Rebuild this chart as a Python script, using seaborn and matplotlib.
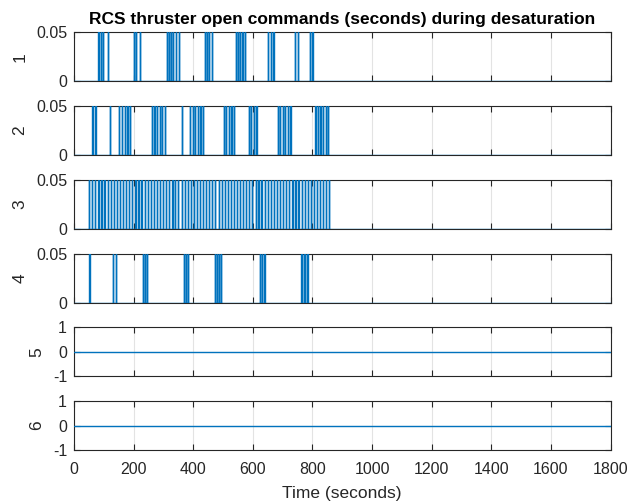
import numpy as np
import pandas as pd
import matplotlib
matplotlib.use("Agg")
import matplotlib.pyplot as plt
import seaborn as sns

# Thruster open-command pulses: start times (s) for each thruster
thruster1_on = [82, 90, 97, 113, 202, 209, 221, 311, 318, 326, 333, 341, 353,
                440, 446, 454, 463, 543, 549, 557, 565, 573, 652, 660, 669,
                742, 751, 792, 800]
thruster2_on = [62, 72, 121, 152, 161, 170, 179, 188, 261, 270, 278, 287, 295,
                304, 362, 390, 399, 407, 415, 424, 432, 502, 511, 519, 528, 536,
                586, 594, 603, 612, 683, 692, 700, 709, 717, 726, 810, 819, 827,
                836, 844, 853]
thruster3_on = [51, 61, 71, 82, 92, 102, 113, 123, 133, 144, 154, 164, 175, 185,
                195, 206, 216, 226, 237, 247, 257, 268, 278, 288, 299, 309, 319,
                330, 340, 350, 361, 371, 381, 392, 402, 412, 423, 433, 443, 454,
                464, 474, 485, 495, 505, 516, 526, 536, 547, 557, 567, 578, 588,
                598, 609, 619, 629, 640, 650, 660, 671, 681, 691, 702, 712, 722,
                733, 743, 753, 764, 774, 784, 795, 805, 815, 826, 836, 846, 855]
thruster4_on = [52, 132, 140, 231, 239, 246, 370, 376, 383, 472, 480, 487, 494,
                623, 630, 639, 763, 770, 776, 783]
thruster5_on = []
thruster6_on = []

pulse_cmd = 0.05      # open command per pulse (s)
pulse_len = 0.5       # duration of each pulse on the time axis (s)
t_end = 1800

channel_names = ["1", "2", "3", "4", "5", "6"]
channel_pulses = [thruster1_on, thruster2_on, thruster3_on,
                  thruster4_on, thruster5_on, thruster6_on]
x_ticks = [0, 200, 400, 600, 800, 1000, 1200, 1400, 1600, 1800]


def waveform(starts):
    ts, vs = [0.0], [0.0]
    for s in starts:
        ts += [s, s, s + pulse_len, s + pulse_len]
        vs += [0.0, pulse_cmd, pulse_cmd, 0.0]
    ts.append(t_end)
    vs.append(0.0)
    return pd.DataFrame({"t": ts, "cmd": vs})


sns.set_theme(style="white")
plt.rcParams["font.family"] = ["Liberation Sans", "DejaVu Sans"]

W, H = 631, 504
fig = plt.figure(figsize=(W / 100, H / 100), dpi=100)

line_color = "#0072BD"
axis_color = "#262626"
grid_color = "#e3e3e3"

left_px, right_px = 74, 610.5
tops = [32.3, 106, 180, 254, 327.3, 401]
height_px = 49

axes = []
for i, (name, starts) in enumerate(zip(channel_names, channel_pulses)):
    ax = fig.add_axes([left_px / W, 1 - (tops[i] + height_px) / H,
                       (right_px - left_px) / W, height_px / H])
    df = waveform(starts)
    sns.lineplot(data=df, x="t", y="cmd", estimator=None, sort=False,
                 ax=ax, color=line_color, linewidth=1.0, zorder=3)
    ax.set_xlim(0, t_end)
    if i < 4:
        ax.set_ylim(0, 0.05)
        ax.set_yticks([0, 0.05])
        ax.set_yticklabels(["0", "0.05"])
    else:
        ax.set_ylim(-1, 1)
        ax.set_yticks([-1, 0, 1])
        ax.set_yticklabels(["-1", "0", "1"])
    ax.set_xticks(x_ticks)
    ax.grid(True, color=grid_color, linewidth=0.8, zorder=0)
    ax.set_axisbelow(True)
    for sp in ax.spines.values():
        sp.set_color(axis_color)
        sp.set_linewidth(0.8)
        sp.set_visible(True)
    ax.tick_params(direction="in", length=4, width=0.8, color=axis_color,
                   top=True, right=True, bottom=True, left=True,
                   labelsize=11.5, labelcolor=axis_color)
    ax.tick_params(axis="y", pad=5)
    ax.tick_params(axis="x", pad=9)
    ax.set_ylabel(name, fontsize=12.5, color=axis_color, labelpad=6)
    ax.set_xlabel("")
    if i < 5:
        ax.tick_params(labelbottom=False)
    else:
        ax.set_xticklabels([str(v) for v in x_ticks])
        ax.set_xlabel("Time (seconds)", fontsize=12.5, color=axis_color, labelpad=6)
    axes.append(ax)

axes[0].set_title("RCS thruster open commands (seconds) during desaturation",
                  fontsize=12.5, fontweight="bold", color="black", pad=6)

fig.savefig("out.png", dpi=100)
